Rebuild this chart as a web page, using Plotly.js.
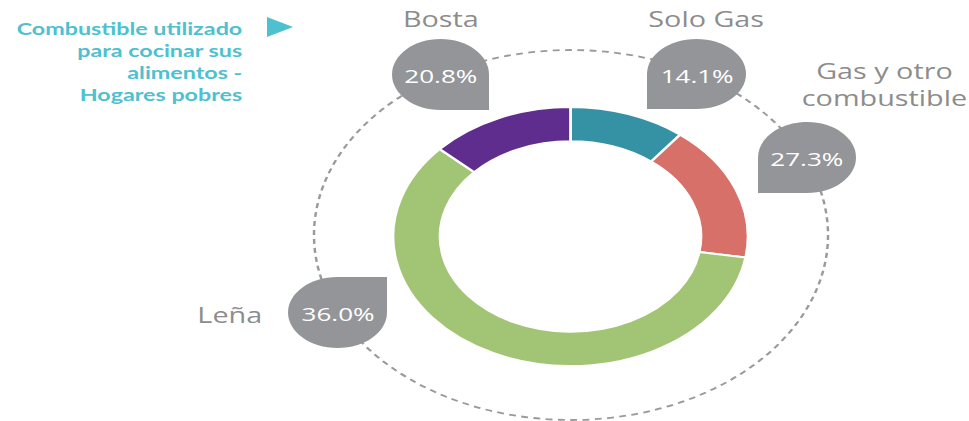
<!DOCTYPE html>
<html>
<head>
<meta charset="utf-8">
<script src="https://cdn.plot.ly/plotly-3.0.1.min.js"></script>
<style>
  html, body { margin: 0; padding: 0; background: #ffffff; overflow: hidden; }
  #chart { width: 707px; height: 421px; transform: scaleX(1.3706); transform-origin: 0 0; }
</style>
</head>
<body>
<div id="chart"></div>
<script>
// ---- data ----
const categories = ["Solo Gas", "Gas y otro<br>combustible", "Leña", "Bosta"];
// slice shares as drawn in the ring (angles, in %)
const sliceShares = [10.6, 17.0, 59.2, 13.2];
// percentages printed in the callouts
const calloutLabels = ["14.1%", "27.3%", "36.0%", "20.8%"];
const sliceColors = ["#3592A4", "#D67068", "#A2C475", "#5F2D8E"];
const chartTitle = "Combustible utilizado<br>para cocinar sus<br>alimentos -<br>Hogares pobres";

// ---- layout helpers (reference pixel space 969x421 -> paper) ----
const W = 969, H = 421;
const px = x => x / W;
const py = y => 1 - y / H;

// callout bubble boxes [left, top, right, bottom] and the square corner
const bubbles = [
  {box: [647, 39, 746, 109], corner: "bl"},   // Solo Gas
  {box: [758, 122, 856, 193], corner: "bl"},  // Gas y otro
  {box: [288, 277, 387, 348], corner: "tr"},  // Leña
  {box: [392, 39, 489, 110], corner: "br"}    // Bosta
];
const nameLabels = [
  {x: 706, y: 19, anchor: "center"},
  {x: 885, y: 84, anchor: "center"},
  {x: 264, y: 315, anchor: "right"},
  {x: 441, y: 19, anchor: "center"}
];

function bubblePath(b) {
  const [l, t, r, bt] = b.box;
  const cx = (l + r) / 2, cy = (t + bt) / 2, rx = (r - l) / 2, ry = (bt - t) / 2;
  const k = 0.5523;
  const P = (x, y) => px(x).toFixed(5) + "," + py(y).toFixed(5);
  let d = "M" + P(cx, t);
  if (b.corner === "tl") d += " L" + P(l, t) + " L" + P(l, cy);
  else d += " C" + P(cx - k * rx, t) + " " + P(l, cy - k * ry) + " " + P(l, cy);
  if (b.corner === "bl") d += " L" + P(l, bt) + " L" + P(cx, bt);
  else d += " C" + P(l, cy + k * ry) + " " + P(cx - k * rx, bt) + " " + P(cx, bt);
  if (b.corner === "br") d += " L" + P(r, bt) + " L" + P(r, cy);
  else d += " C" + P(cx + k * rx, bt) + " " + P(r, cy + k * ry) + " " + P(r, cy);
  if (b.corner === "tr") d += " L" + P(r, t) + " L" + P(cx, t);
  else d += " C" + P(r, cy - k * ry) + " " + P(cx + k * rx, t) + " " + P(cx, t);
  return d + " Z";
}

const shapes = [
  {type: "circle", xref: "paper", yref: "paper",
   x0: px(314), x1: px(828), y0: py(420), y1: py(50),
   line: {color: "#9a9a9a", width: 1.8, dash: "5px,4px"}, fillcolor: "rgba(0,0,0,0)"}
];
bubbles.forEach(b => shapes.push({
  type: "path", xref: "paper", yref: "paper", path: bubblePath(b),
  fillcolor: "#939598", line: {width: 0}
}));
// title arrow
shapes.push({type: "path", xref: "paper", yref: "paper",
  path: "M" + px(267) + "," + py(17) + " L" + px(267) + "," + py(37) + " L" + px(293) + "," + py(27) + " Z",
  fillcolor: "#4DC1CF", line: {width: 0}});

const annotations = [];
categories.forEach((c, i) => {
  const b = bubbles[i].box;
  annotations.push({
    xref: "paper", yref: "paper", x: px((b[0] + b[2]) / 2), y: py((b[1] + b[3]) / 2 + 1.5),
    text: calloutLabels[i], showarrow: false, xanchor: "center", yanchor: "middle",
    font: {family: "Open Sans, sans-serif", size: 19, color: "#ffffff"}
  });
  const n = nameLabels[i];
  annotations.push({
    xref: "paper", yref: "paper", x: px(n.x), y: py(n.y),
    text: c, showarrow: false, xanchor: n.anchor, yanchor: "middle", align: "center",
    font: {family: "Open Sans, sans-serif", size: 21, color: "#8c8c8c"}
  });
});
annotations.push({
  xref: "paper", yref: "paper", x: px(245), y: py(61),
  text: chartTitle, showarrow: false, xanchor: "right", yanchor: "middle", align: "right",
  font: {family: "Lato, sans-serif", size: 17, color: "#4DC1CF", weight: "bold"}
});

const data = [{
  type: "pie",
  values: sliceShares,
  labels: categories,
  marker: {colors: sliceColors, line: {color: "#ffffff", width: 2}},
  hole: 0.735,
  sort: false,
  direction: "clockwise",
  rotation: 0,
  textinfo: "none",
  hoverinfo: "none",
  showlegend: false,
  domain: {x: [px(393), px(748)], y: [py(366), py(107)]}
}];

const layout = {
  width: 707, height: 421,
  margin: {l: 0, r: 0, t: 0, b: 0},
  paper_bgcolor: "#ffffff",
  plot_bgcolor: "#ffffff",
  showlegend: false,
  shapes: shapes,
  annotations: annotations
};

Plotly.newPlot("chart", data, layout, {displayModeBar: false, staticPlot: true});
</script>
</body>
</html>
